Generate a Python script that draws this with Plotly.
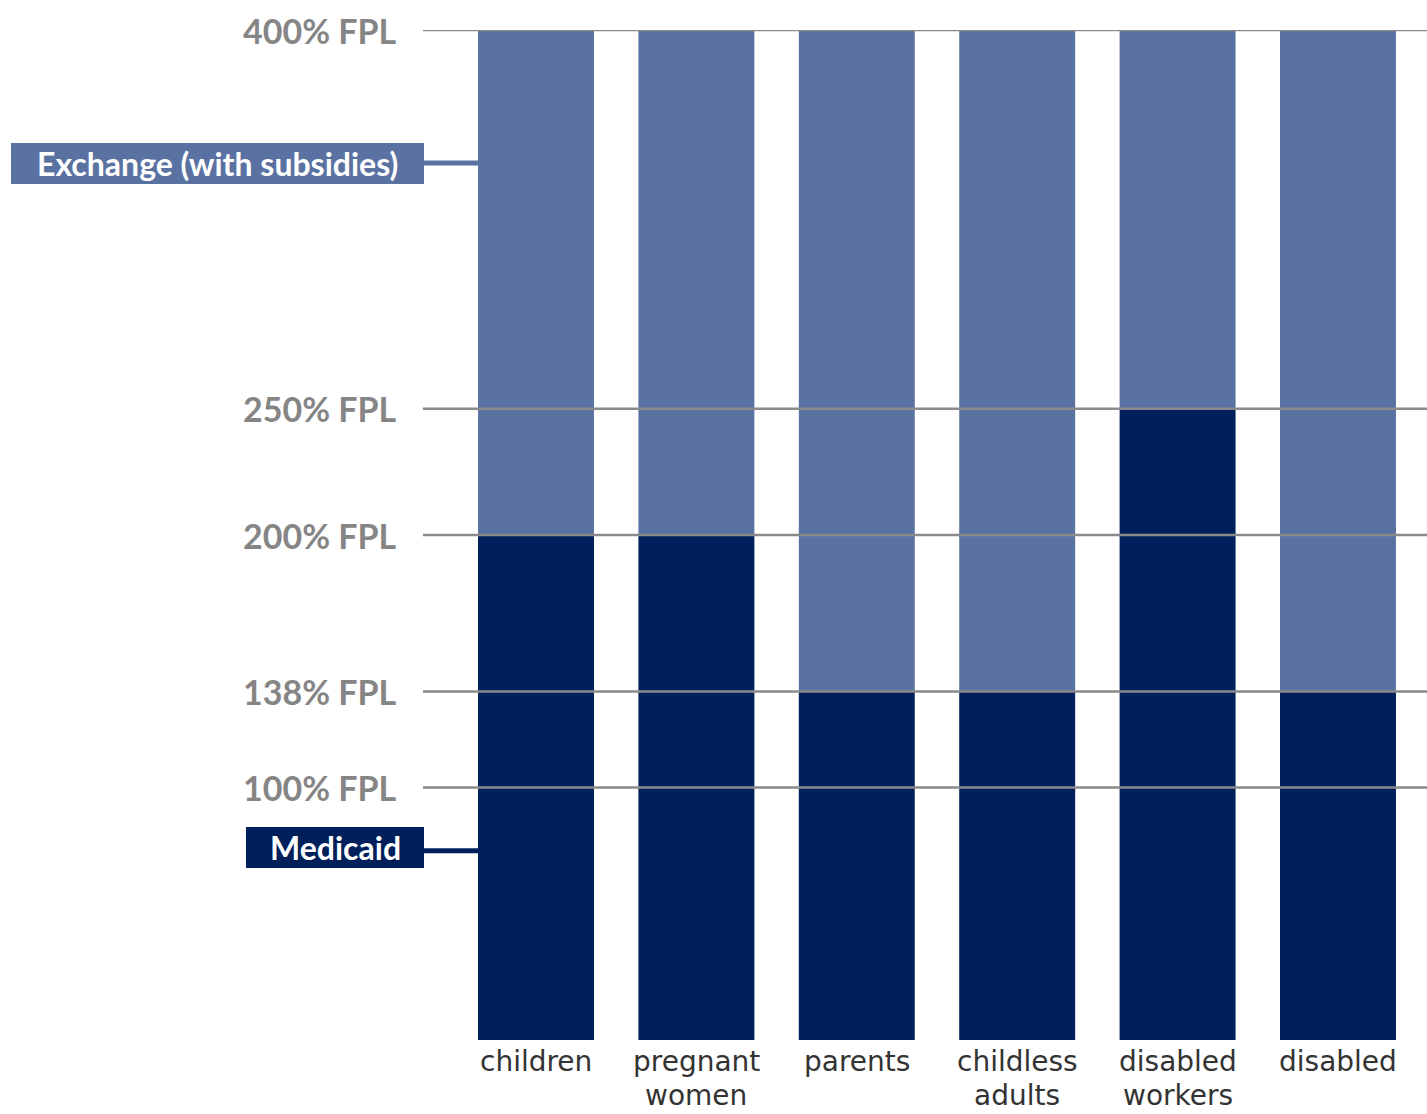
import plotly.graph_objects as go

categories = ["children", "pregnant<br>women", "parents", "childless<br>adults", "disabled<br>workers", "disabled"]
medicaid_limit = [200, 200, 138, 138, 250, 138]
exchange_limit = [400, 400, 400, 400, 400, 400]
fpl_levels = [400, 250, 200, 138, 100]
fpl_labels = ["400% FPL", "250% FPL", "200% FPL", "138% FPL", "100% FPL"]

DARK = "#00205B"
LIGHT = "#5A72A2"
GRAY = "#858585"
FONT = "Lato"
CAT_FONT = "DejaVu Sans"

x = list(range(len(categories)))
exchange_height = [e - m for e, m in zip(exchange_limit, medicaid_limit)]

fig = go.Figure()
fig.add_trace(go.Bar(x=x, y=medicaid_limit, marker=dict(color=DARK, line=dict(width=0)),
                     width=0.723, name="Medicaid", hoverinfo="skip"))
fig.add_trace(go.Bar(x=x, y=exchange_height, base=medicaid_limit,
                     marker=dict(color=LIGHT, line=dict(width=0)),
                     width=0.723, name="Exchange", hoverinfo="skip"))

shapes = []
annotations = []
for lvl, lab in zip(fpl_levels, fpl_labels):
    shapes.append(dict(type="line", xref="paper", yref="y", x0=0, x1=1, y0=lvl, y1=lvl,
                       line=dict(color="#8a8a8a", width=2.5), layer="above"))
    annotations.append(dict(xref="paper", yref="y", x=0, y=lvl, xanchor="right", yanchor="middle",
                            xshift=-24, text=lab, showarrow=False,
                            font=dict(family=FONT, size=34, color=GRAY, weight="bold")))

# category labels (two lines each, placed separately for tight line spacing)
for i, c in enumerate(categories):
    parts = c.split("<br>")
    annotations.append(dict(xref="x", yref="paper", x=i, y=0, yanchor="top", yshift=-3,
                            text=parts[0], showarrow=False,
                            font=dict(family=CAT_FONT, size=28, color="#333333")))
    if len(parts) > 1:
        annotations.append(dict(xref="x", yref="paper", x=i, y=0, yanchor="bottom", yshift=-74,
                                text=parts[1], showarrow=False,
                                font=dict(family=CAT_FONT, size=28, color="#333333")))

# legend-like callout boxes
W = 1004.0
def px(v):
    return (v - 423) / W

boxes = [
    ("Exchange (with subsidies)", LIGHT, 11, 355.2, 339.0, 347.3),
    ("Medicaid", DARK, 246, 84.4, 68.1, 75.0),
]
for text, col, left, ytop, ybot, ymid in boxes:
    shapes.append(dict(type="rect", xref="paper", yref="y", x0=px(left), x1=px(424),
                       y0=ybot, y1=ytop, fillcolor=col, line=dict(width=0), layer="above"))
    shapes.append(dict(type="line", xref="paper", yref="y", x0=px(424), x1=px(479),
                       y0=ymid, y1=ymid, line=dict(color=col, width=5), layer="above"))
    annotations.append(dict(xref="paper", yref="y", x=(px(left) + px(424)) / 2, y=(ytop + ybot) / 2,
                            xanchor="center", yanchor="middle", text=text, showarrow=False,
                            font=dict(family=FONT, size=32, color="white", weight="bold")))

fig.update_layout(
    width=1427, height=1114,
    margin=dict(l=423, r=0, t=30, b=74),
    paper_bgcolor="white", plot_bgcolor="white",
    barmode="overlay", showlegend=False,
    xaxis=dict(range=[-0.7045, 5.555], showticklabels=False, showgrid=False, zeroline=False,
               showline=False, fixedrange=True),
    yaxis=dict(range=[0, 400], showticklabels=False, showgrid=False, zeroline=False,
               showline=False, fixedrange=True),
    shapes=shapes, annotations=annotations,
)

fig.write_html("out.html")
